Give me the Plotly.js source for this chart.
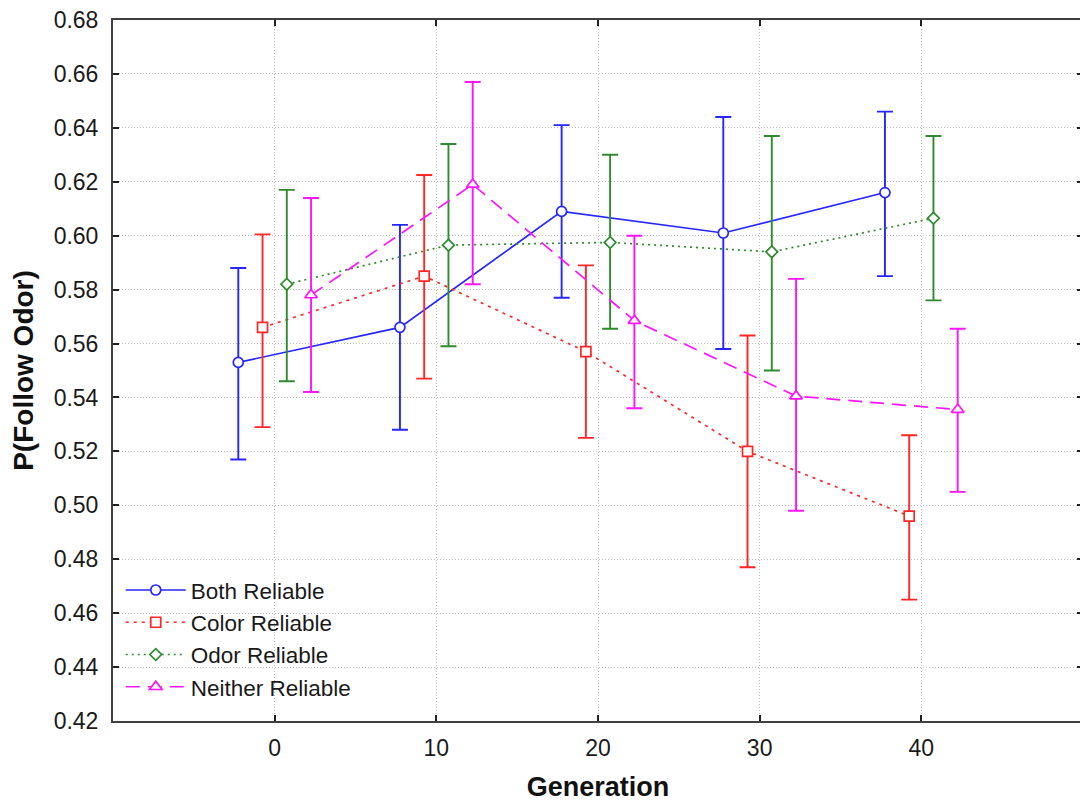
<!DOCTYPE html>
<html>
<head>
<meta charset="utf-8">
<script src="https://cdn.plot.ly/plotly-3.0.1.min.js"></script>
<style>
html, body { margin: 0; padding: 0; overflow: hidden; background: #fff; }
#chart { width: 1090px; height: 804px; }
</style>
</head>
<body>
<div id="chart"></div>
<script>
// ---- data ----
const generation = [0, 10, 20, 30, 40];
const seriesNames = ["Both Reliable", "Color Reliable", "Odor Reliable", "Neither Reliable"];

const bothMean  = [0.553, 0.566, 0.609, 0.601, 0.616];
const bothUpper = [0.588, 0.604, 0.641, 0.644, 0.646];
const bothLower = [0.517, 0.528, 0.577, 0.558, 0.585];

const colorMean  = [0.566, 0.585, 0.557, 0.520, 0.496];
const colorUpper = [0.6005, 0.6225, 0.589, 0.563, 0.526];
const colorLower = [0.529, 0.547, 0.525, 0.477, 0.465];

const odorMean  = [0.582, 0.5965, 0.5975, 0.594, 0.6065];
const odorUpper = [0.617, 0.634, 0.630, 0.637, 0.637];
const odorLower = [0.546, 0.559, 0.5655, 0.550, 0.576];

const neitherMean  = [0.578, 0.619, 0.5685, 0.5405, 0.5355];
const neitherUpper = [0.614, 0.657, 0.600, 0.584, 0.5655];
const neitherLower = [0.542, 0.582, 0.536, 0.498, 0.505];

const yTickVals = [0.42,0.44,0.46,0.48,0.50,0.52,0.54,0.56,0.58,0.60,0.62,0.64,0.66,0.68];
const xTickVals = [0, 10, 20, 30, 40];

// ---- styling ----
const styles = [
  {color: "#2626ff", dash: "solid",      symbol: "circle",      size: 10, dodge: -2.25},
  {color: "#ff2626", dash: "3px,5px",    symbol: "square",      size: 10, dodge: -0.75},
  {color: "#2e8b2e", dash: "2px,4px",    symbol: "diamond",     size: 9,  dodge: 0.75},
  {color: "#ff14ff", dash: "14px,8px",   symbol: "triangle-up", size: 11, dodge: 2.25}
];
const means  = [bothMean, colorMean, odorMean, neitherMean];
const uppers = [bothUpper, colorUpper, odorUpper, neitherUpper];
const lowers = [bothLower, colorLower, odorLower, neitherLower];

const traces = seriesNames.map((name, i) => {
  const s = styles[i];
  return {
    type: "scatter",
    mode: "lines+markers",
    name: name,
    x: generation.map(g => g + s.dodge),
    y: means[i],
    line: {color: s.color, width: 1.7, dash: s.dash},
    marker: {symbol: s.symbol, size: s.size, color: "#ffffff", line: {color: s.color, width: 1.7}},
    error_y: {
      type: "data", symmetric: false,
      array: uppers[i].map((u, k) => u - means[i][k]),
      arrayminus: lowers[i].map((l, k) => means[i][k] - l),
      color: s.color, thickness: 1.9, width: 8
    }
  };
});

const font = "Liberation Sans, Arial, sans-serif";
const layout = {
  width: 1090, height: 804,
  margin: {l: 113, r: 7, t: 20, b: 83},
  paper_bgcolor: "#ffffff", plot_bgcolor: "#ffffff",
  font: {family: font, color: "#1a1a1a"},
  showlegend: true,
  legend: {
    x: 0.008, y: 0.217, xanchor: "left", yanchor: "top",
    bgcolor: "rgba(0,0,0,0)", font: {size: 22.5, family: font, color: "#1a1a1a"},
    itemwidth: 60, tracegroupgap: 0
  },
  xaxis: {
    range: [-10, 50], tickvals: xTickVals, ticktext: xTickVals.map(String),
    showline: true, linecolor: "#404040", linewidth: 2, mirror: "ticks",
    ticks: "inside", ticklen: 6, tickcolor: "#202020", tickwidth: 2,
    showgrid: true, gridcolor: "#bdbdbd", griddash: "1px,2px", gridwidth: 1,
    zeroline: false, tickfont: {size: 23, family: font, color: "#1a1a1a"},
    ticklabelstandoff: 5,
    title: {text: "Generation", font: {size: 27, family: font, color: "#111", weight: "bold"}, standoff: 18}
  },
  yaxis: {
    range: [0.42, 0.68], tickvals: yTickVals, tickformat: ".2f",
    showline: true, linecolor: "#404040", linewidth: 2, mirror: "ticks",
    ticks: "inside", ticklen: 6, tickcolor: "#202020", tickwidth: 2,
    showgrid: true, gridcolor: "#bdbdbd", griddash: "1px,2px", gridwidth: 1,
    zeroline: false, tickfont: {size: 23, family: font, color: "#1a1a1a"},
    ticklabelstandoff: 8,
    title: {text: "P(Follow Odor)", font: {size: 28, family: font, color: "#111", weight: "bold"}, standoff: 12}
  }
};

Plotly.newPlot("chart", traces, layout, {displayModeBar: false, staticPlot: true});
</script>
</body>
</html>
